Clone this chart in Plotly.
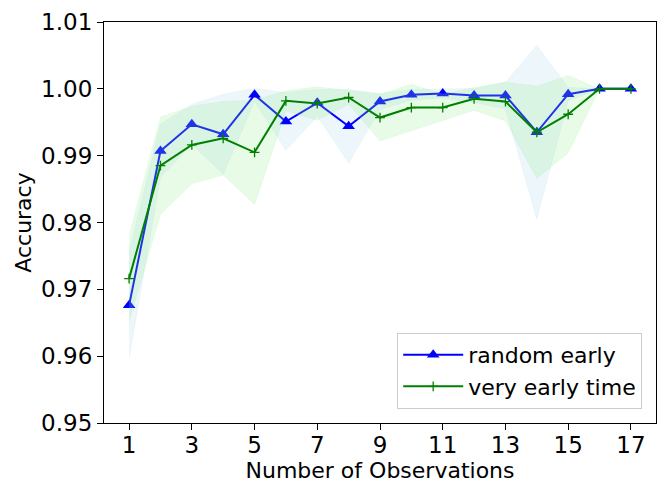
import plotly.graph_objects as go

# data
observations = list(range(1, 18))
random_early = [0.9676, 0.9907, 0.9947, 0.9932, 0.9991, 0.9951, 0.9979, 0.9944, 0.9981,
                0.9991, 0.9993, 0.9990, 0.9990, 0.9935, 0.9992, 1.0000, 1.0000]
random_early_std = [0.0080, 0.0040, 0.0030, 0.0060, 0.0010, 0.0043, 0.0020, 0.0055, 0.0012,
                    0.0008, 0.0007, 0.0010, 0.0020, 0.0130, 0.0010, 0.0000, 0.0000]
very_early = [0.9716, 0.9885, 0.9916, 0.9926, 0.9905, 0.9982, 0.9978, 0.9987, 0.9957,
              0.9972, 0.9972, 0.9985, 0.9981, 0.9935, 0.9962, 1.0000, 1.0000]
very_early_std = [0.0064, 0.0073, 0.0058, 0.0055, 0.0078, 0.0015, 0.0025, 0.0010, 0.0035,
                  0.0035, 0.0020, 0.0017, 0.0029, 0.0069, 0.0058, 0.0000, 0.0000]
y_ticks = [0.95, 0.96, 0.97, 0.98, 0.99, 1.00, 1.01]

FONT = "DejaVu Sans"

fig = go.Figure()


def add_series(y, std, name, color, band, symbol, msize, mline):
    upper = [m + s for m, s in zip(y, std)]
    lower = [m - s for m, s in zip(y, std)]
    fig.add_trace(go.Scatter(x=observations, y=upper, mode="lines",
                             line=dict(width=0.6, color=band), showlegend=False,
                             hoverinfo="skip"))
    fig.add_trace(go.Scatter(x=observations, y=lower, mode="lines", fill="tonexty",
                             fillcolor=band, line=dict(width=0.6, color=band),
                             showlegend=False, hoverinfo="skip"))
    fig.add_trace(go.Scatter(x=observations, y=y, mode="lines+markers", name=name,
                             line=dict(color=color, width=2),
                             marker=dict(symbol=symbol, size=msize, color=color,
                                         line=mline)))


add_series(random_early, random_early_std, "random early", "#0000ff",
           "rgba(173,216,230,0.22)", "triangle-up", 11, dict(width=0))
add_series(very_early, very_early_std, "very early time", "#008000",
           "rgba(144,238,144,0.22)", "cross-thin", 7, dict(width=1.3, color="#008000"))

axis_common = dict(showline=True, linecolor="black", linewidth=1.2, mirror=True,
                   ticks="outside", ticklen=6, tickwidth=1.2, tickcolor="black",
                   showgrid=False, zeroline=False, automargin=False,
                   ticklabeloverflow="allow",
                   tickfont=dict(family=FONT, size=23, color="black"),
                   title_font=dict(family=FONT, size=22, color="black"))

fig.update_xaxes(range=[0.2, 17.8], tickmode="array", tickvals=list(range(1, 18, 2)),
                 ticklabelstandoff=-5,
                 title_text="Number of Observations", title_standoff=0, **axis_common)
fig.update_yaxes(range=[0.95, 1.01], tickmode="array",
                 tickvals=y_ticks, ticktext=[f"{v:.2f}" for v in y_ticks],
                 title_text="Accuracy", title_standoff=3, **axis_common)

# page body has an 8px margin, so the figure is sized to fit inside the window
fig.update_layout(
    width=657, height=487,
    margin=dict(l=96, r=9, t=14, b=72),
    plot_bgcolor="white", paper_bgcolor="white",
    font=dict(family=FONT, color="black"),
    legend=dict(x=0.975, y=0.035, xanchor="right", yanchor="bottom",
                traceorder="normal", itemwidth=60,
                bgcolor="white", bordercolor="#cccccc", borderwidth=1,
                font=dict(family=FONT, size=22, color="black")),
)

fig.write_html("out.html")
